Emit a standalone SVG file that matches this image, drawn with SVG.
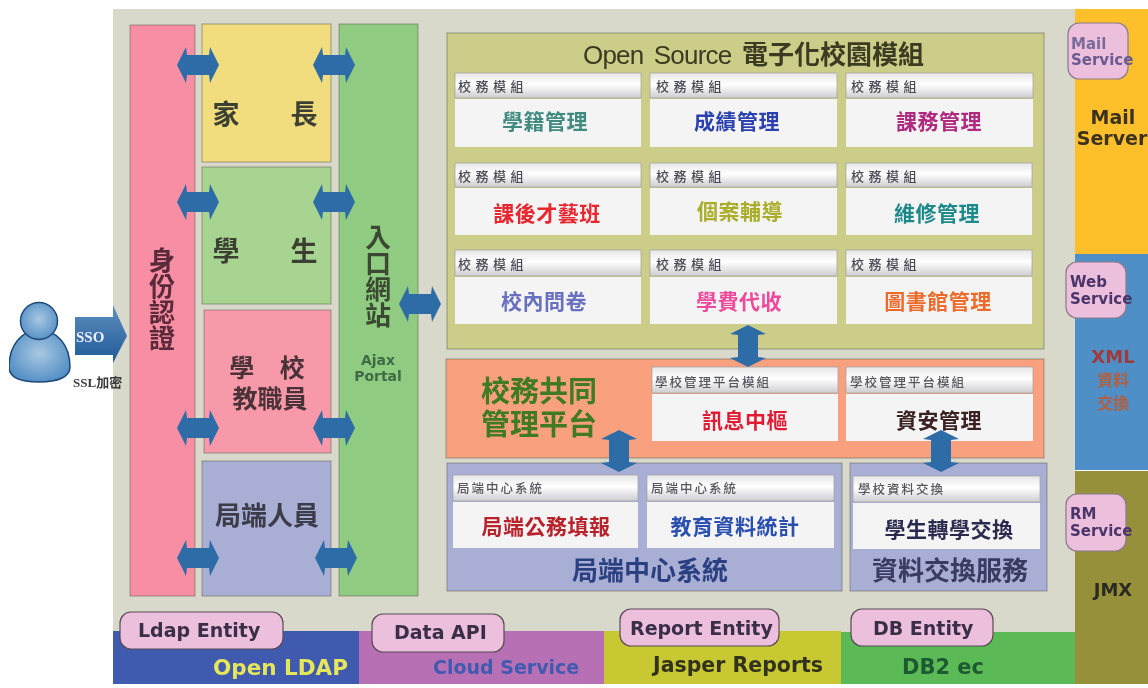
<svg xmlns="http://www.w3.org/2000/svg" width="1148" height="688" viewBox="0 0 1148 688">
<style>
text{font-family:"Noto Sans CJK TC","Noto Sans CJK SC",sans-serif;font-weight:700}
.lat{font-family:"DejaVu Sans",sans-serif;font-weight:700}
.m{text-anchor:middle}
.box{stroke:#5f5f50;stroke-opacity:.55;stroke-width:1}
.head{fill:url(#hg);stroke:#a0a0a0;stroke-width:.7}
.body{fill:#f4f4f4}
.lab{font-size:13px;letter-spacing:4.500px;fill:#4a4a55;font-weight:500}
.lab2{font-size:12.500px;letter-spacing:2px;fill:#55555f;font-weight:500}
.val{font-size:21px;text-anchor:middle;letter-spacing:.5px}
.pill{fill:#ecbfdc;stroke:#5a4a55;stroke-width:1.2}
.pt{font-size:19px;fill:#3a2f48}
.ps{font-size:15px;fill:#4a3568}
.usr{font-size:27px;fill:#3a4030}
.vert{writing-mode:vertical-rl;font-size:26px}
.arr{fill:#2f6ca8}
</style>
<defs>
<linearGradient id="hg" x1="0" y1="0" x2="0" y2="1"><stop offset="0" stop-color="#e6e6e6"/><stop offset=".45" stop-color="#fff"/><stop offset="1" stop-color="#cdcdd0"/></linearGradient>
<linearGradient id="sso" x1="0" y1="0" x2="0" y2="1"><stop offset="0" stop-color="#5f8fc0"/><stop offset="1" stop-color="#1f5a98"/></linearGradient>
<radialGradient id="usr" cx=".5" cy=".45" r=".6"><stop offset="0" stop-color="#a9c8e2"/><stop offset="1" stop-color="#4f8cc4"/></radialGradient>
<path id="dh" d="M-21 0L-12-18-11-10H11L12-18 21 0 12 18 11 10H-11L-12 18Z"/>
<filter id="soft" x="0" y="0" width="100%" height="100%"><feGaussianBlur stdDeviation=".7"/></filter>
</defs>
<rect width="1148" height="688" fill="#fff"/>
<g filter="url(#soft)">
<rect x="113" y="9" width="962" height="624" fill="#d8d9cb"/>

<g id="user">
<path d="M9 367C9 345 22 330 39 330C57 330 70 345 70 367C70 377 58 382 39 382C20 382 9 377 9 367Z" fill="url(#usr)" stroke="#1f4a78" stroke-width="1.5"/>
<circle cx="39" cy="321" r="18.500" fill="url(#usr)" stroke="#1f4a78" stroke-width="1.5"/>
</g>
<g id="sso">
<polygon points="75,317 113,317 113,305 127,336 113,363 113,355 75,355" fill="url(#sso)"/>
<text x="76" y="342" style="font-family:'Liberation Serif',serif" font-size="15" fill="#eef">SSO</text>
<text x="73" y="387" font-size="13" fill="#3a3a3a" style="font-family:'Liberation Serif','Noto Sans CJK TC',serif">SSL加密</text>
</g>

<g id="auth"><rect class="box" x="130" y="25" width="65" height="571" fill="#f78ea3"/>
<text class="vert" x="162" y="247" fill="#5a2a3a">身份認證</text></g>
<g id="parent"><rect class="box" x="202" y="24" width="129" height="138" fill="#f2dd7e"/>
<text class="usr m" x="265" y="124" style="word-spacing:45px">家 長</text></g>
<g id="student"><rect class="box" x="202" y="167" width="129" height="137" fill="#a7d490"/>
<text class="usr m" x="265" y="261" style="word-spacing:45px">學 生</text></g>
<g id="staff"><rect class="box" x="204" y="310" width="127" height="143" fill="#f799a8"/>
<text class="m" x="267" y="377" font-size="25" fill="#4a3038" style="word-spacing:20px">學 校</text>
<text class="m" x="270" y="408" font-size="25" fill="#4a3038">教職員</text></g>
<g id="bureau"><rect class="box" x="202" y="461" width="129" height="135" fill="#a9aed4"/>
<text class="m" x="267" y="525" font-size="26" fill="#3a3a48">局端人員</text></g>
<g id="portal"><rect class="box" x="339" y="24" width="79" height="572" fill="#8fcb80"/>
<text class="vert" x="378" y="224" fill="#3a4a30">入口網站</text>
<text class="lat m" x="378" y="365" font-size="14" fill="#3f6b45">Ajax</text>
<text class="lat m" x="378" y="381" font-size="14" fill="#3f6b45">Portal</text></g>

<g id="modules"><rect class="box" x="447" y="33" width="597" height="316" fill="#cdcd8a"/>
<text x="583" y="64" font-size="26" fill="#3a3a20" style="font-family:'Liberation Sans','Noto Sans CJK TC',sans-serif;font-weight:400;letter-spacing:-.8px;word-spacing:4px">Open Source <tspan x="742" style="font-family:'Noto Sans CJK TC',sans-serif;font-weight:700;letter-spacing:0">電子化校園模組</tspan></text></g>

<g id="m1"><rect class="head" x="455" y="73" width="186" height="25"/><rect class="body" x="455" y="99" width="186" height="48"/><text class="lab" x="458" y="91">校務模組</text><text class="val" x="545" y="129" fill="#3f8a80">學籍管理</text></g>
<g id="m2"><rect class="head" x="650" y="73" width="187" height="25"/><rect class="body" x="650" y="99" width="187" height="48"/><text class="lab" x="656" y="91">校務模組</text><text class="val" x="737" y="129" fill="#2a3fb0">成績管理</text></g>
<g id="m3"><rect class="head" x="846" y="73" width="187" height="25"/><rect class="body" x="846" y="99" width="187" height="48"/><text class="lab" x="851" y="91">校務模組</text><text class="val" x="939" y="129" fill="#b02a80">課務管理</text></g>
<g id="m4"><rect class="head" x="455" y="163" width="186" height="24"/><rect class="body" x="455" y="188" width="186" height="47"/><text class="lab" x="458" y="181">校務模組</text><text class="val" x="547" y="221" fill="#e8252f">課後才藝班</text></g>
<g id="m5"><rect class="head" x="650" y="163" width="187" height="24"/><rect class="body" x="650" y="188" width="187" height="47"/><text class="lab" x="656" y="181">校務模組</text><text class="val" x="740" y="219" fill="#a9ad2a">個案輔導</text></g>
<g id="m6"><rect class="head" x="846" y="163" width="186" height="24"/><rect class="body" x="846" y="188" width="186" height="47"/><text class="lab" x="851" y="181">校務模組</text><text class="val" x="937" y="221" fill="#1f8a8a">維修管理</text></g>
<g id="m7"><rect class="head" x="455" y="250" width="186" height="26"/><rect class="body" x="455" y="277" width="186" height="47"/><text class="lab" x="458" y="269">校務模組</text><text class="val" x="544" y="309" fill="#6a6fc0">校內問卷</text></g>
<g id="m8"><rect class="head" x="650" y="250" width="187" height="26"/><rect class="body" x="650" y="277" width="187" height="47"/><text class="lab" x="656" y="269">校務模組</text><text class="val" x="739" y="309" fill="#ee4a9a">學費代收</text></g>
<g id="m9"><rect class="head" x="846" y="250" width="186" height="26"/><rect class="body" x="846" y="277" width="186" height="47"/><text class="lab" x="851" y="269">校務模組</text><text class="val" x="938" y="309" fill="#ee6a2a">圖書館管理</text></g>

<g id="platform"><rect class="box" x="446" y="359" width="598" height="99" fill="#f9a07f"/>
<text x="481" y="402" font-size="29" fill="#3f7a20">校務共同</text><text x="481" y="435" font-size="29" fill="#3f7a20">管理平台</text></g>
<g id="p1"><rect class="head" x="652" y="367" width="186" height="26"/><rect class="body" x="652" y="394" width="186" height="47"/><text class="lab2" x="655" y="387">學校管理平台模組</text><text class="val" x="745" y="428" fill="#e01f35">訊息中樞</text></g>
<g id="p2"><rect class="head" x="846" y="367" width="187" height="26"/><rect class="body" x="846" y="394" width="187" height="47"/><text class="lab2" x="850" y="387">學校管理平台模組</text><text class="val" x="939" y="428" fill="#3a2020">資安管理</text></g>

<g id="bureau-sys"><rect class="box" x="447" y="463" width="395" height="128" fill="#a9aed4"/>
<text class="m" x="650" y="580" font-size="26" fill="#2a3f80">局端中心系統</text></g>
<g id="b1"><rect class="head" x="453" y="475" width="185" height="26"/><rect class="body" x="453" y="502" width="185" height="46"/><text class="lab2" x="457" y="493">局端中心系統</text><text class="val" x="546" y="534" fill="#b8202a">局端公務填報</text></g>
<g id="b2"><rect class="head" x="647" y="475" width="187" height="26"/><rect class="body" x="647" y="502" width="187" height="46"/><text class="lab2" x="651" y="493">局端中心系統</text><text class="val" x="735" y="534" fill="#2a4fb0">教育資料統計</text></g>
<g id="exchange"><rect class="box" x="850" y="463" width="197" height="128" fill="#a9aed4"/>
<text class="m" x="950" y="580" font-size="26" fill="#3a3a60">資料交換服務</text></g>
<g id="e1"><rect class="head" x="853" y="476" width="187" height="26"/><rect class="body" x="853" y="503" width="187" height="46"/><text class="lab2" x="858" y="494">學校資料交換</text><text class="val" x="949" y="537" fill="#2a2a50">學生轉學交換</text></g>

<g id="ldap"><rect x="113" y="631" width="246" height="53" fill="#3f5ab0"/><rect class="pill" x="120" y="612" width="163" height="37" rx="11"/>
<text class="lat pt" x="138" y="637">Ldap Entity</text><text class="lat" x="213" y="675" font-size="21.500" fill="#e6e65a">Open LDAP</text></g>
<g id="cloud"><rect x="359" y="631" width="245" height="53" fill="#b86fb5"/><rect class="pill" x="372" y="614" width="132" height="38" rx="11"/>
<text class="lat pt" x="394" y="639">Data API</text><text class="lat" x="433" y="674" font-size="19" fill="#3f5ab0">Cloud Service</text></g>
<g id="jasper"><rect x="604" y="631" width="237" height="53" fill="#c8c832"/><rect class="pill" x="620" y="609" width="159" height="37" rx="11"/>
<text class="lat pt" x="630" y="635">Report Entity</text><text class="lat" x="653" y="672" font-size="20.500" fill="#33331f">Jasper Reports</text></g>
<g id="db2"><rect x="841" y="632" width="234" height="52" fill="#5cba57"/><rect class="pill" x="851" y="609" width="142" height="37" rx="11"/>
<text class="lat pt" x="873" y="635">DB Entity</text><text class="lat" x="902" y="674" font-size="21" fill="#1f5a30">DB2 ec</text></g>

<g id="mail"><rect x="1075" y="9" width="73" height="245" fill="#fdbf2a"/><rect class="pill" x="1068" y="23" width="60" height="56" rx="11" style="stroke:#8a7a8a"/>
<text class="lat ps" x="1071" y="49" style="fill:#7a6a9a">Mail</text><text class="lat ps" x="1071" y="65" style="fill:#6a5a90">Service</text>
<text class="lat m" x="1113" y="124" font-size="19" fill="#3a3020">Mail</text><text class="lat m" x="1112" y="145" font-size="19" fill="#3a3020">Server</text></g>
<g id="web"><rect x="1075" y="254" width="73" height="216" fill="#4f8fc8"/><rect class="pill" x="1066" y="262" width="60" height="56" rx="11" style="stroke:#8a7a8a"/>
<text class="lat ps" x="1070" y="287">Web</text><text class="lat ps" x="1070" y="304">Service</text>
<text class="lat m" x="1113" y="363" font-size="18" fill="#a03a3a">XML</text><text class="m" x="1113" y="386" font-size="16" fill="#b0603f">資料</text><text class="m" x="1113" y="409" font-size="16" fill="#b0603f">交換</text></g>
<g id="jmx"><rect x="1075" y="471" width="73" height="213" fill="#96903a"/><rect class="pill" x="1066" y="494" width="60" height="57" rx="11" style="stroke:#8a7a8a"/>
<text class="lat ps" x="1070" y="519">RM</text><text class="lat ps" x="1070" y="536">Service</text>
<text class="lat m" x="1113" y="596" font-size="18" fill="#2a2a20">JMX</text></g>

<g id="connectors" class="arr">
<use href="#dh" x="198" y="65"/><use href="#dh" x="334" y="65"/>
<use href="#dh" x="198" y="202"/><use href="#dh" x="334" y="202"/>
<use href="#dh" x="198" y="428"/><use href="#dh" x="334" y="428"/>
<use href="#dh" x="198" y="558"/><use href="#dh" x="336" y="558"/>
<use href="#dh" x="420" y="304"/>
<use href="#dh" transform="translate(748 346) rotate(90)"/>
<use href="#dh" transform="translate(619 451) rotate(90)"/>
<use href="#dh" transform="translate(941 451) rotate(90)"/>
</g>
</g>
</svg>
